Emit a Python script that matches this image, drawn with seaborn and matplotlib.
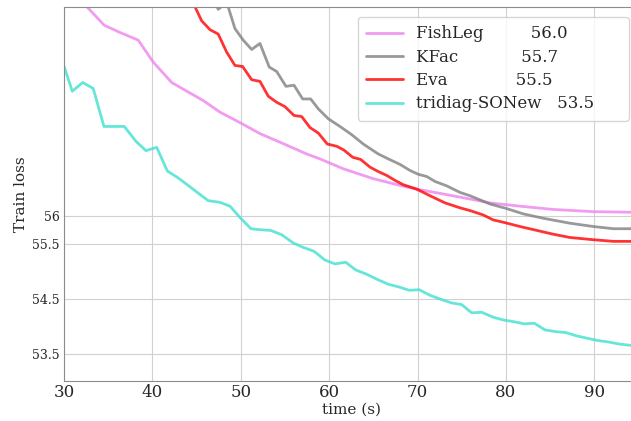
import matplotlib
matplotlib.use("Agg")
import matplotlib.pyplot as plt
import seaborn as sns
import pandas as pd

# --- Data ---
METHODS = ["FishLeg", "KFac", "Eva", "tridiag-SONew"]
FINAL_LOSS = [56.0, 55.7, 55.5, 53.5]
COLORS = ["violet", "grey", "red", "turquoise"]

fishleg_t = [30.00, 34.56, 36.33, 38.40, 40.10, 42.18, 43.91, 45.76, 47.65, 49.91,
             52.17, 54.77, 57.45, 58.96, 61.60, 64.99, 68.20, 70.27, 73.29, 75.93,
             78.19, 81.58, 85.35, 89.88, 94.03, 95.00]
fishleg_loss = [60.25, 59.47, 59.34, 59.20, 58.80, 58.43, 58.27, 58.10, 57.89, 57.70,
                57.50, 57.32, 57.13, 57.04, 56.86, 56.68, 56.55, 56.48, 56.39, 56.31,
                56.24, 56.18, 56.12, 56.08, 56.07, 56.07]

kfac_t = [46.52, 47.45, 48.41, 49.34, 50.28, 51.23, 52.17, 53.22, 54.06, 55.11,
          56.02, 57.00, 57.91, 58.77, 59.90, 61.22, 62.55, 63.86, 65.55, 66.69,
          68.01, 69.14, 70.08, 71.03, 71.97, 73.29, 74.80, 75.93, 78.19, 80.00,
          81.96, 84.22, 87.24, 89.88, 92.14, 94.03, 95.00]
kfac_loss = [60.11, 59.76, 59.89, 59.41, 59.20, 59.03, 59.14, 58.71, 58.63, 58.36,
             58.38, 58.13, 58.13, 57.95, 57.77, 57.63, 57.48, 57.31, 57.13, 57.04,
             56.94, 56.83, 56.76, 56.72, 56.63, 56.55, 56.43, 56.37, 56.22, 56.14,
             56.04, 55.96, 55.87, 55.81, 55.77, 55.77, 55.76]

eva_t = [43.69, 44.63, 45.58, 46.52, 47.45, 48.41, 49.34, 50.21, 51.23, 52.17,
         53.11, 54.06, 55.00, 56.02, 56.89, 57.83, 58.77, 59.79, 60.85, 61.67,
         62.66, 63.56, 64.62, 65.55, 66.50, 67.44, 68.38, 69.90, 71.40, 73.10,
         74.80, 75.93, 77.43, 78.56, 79.89, 81.58, 83.47, 85.35, 87.24, 89.88,
         92.14, 94.03, 95.00]
eva_loss = [60.20, 59.87, 59.55, 59.39, 59.31, 58.98, 58.74, 58.72, 58.48, 58.45,
            58.18, 58.07, 57.99, 57.83, 57.81, 57.61, 57.51, 57.31, 57.27, 57.20,
            57.07, 57.03, 56.89, 56.81, 56.74, 56.65, 56.57, 56.49, 56.37, 56.24,
            56.15, 56.10, 56.02, 55.93, 55.88, 55.81, 55.74, 55.67, 55.61, 55.57,
            55.54, 55.54, 55.53]

sonew_t = [30.00, 30.94, 32.12, 33.31, 34.52, 35.66, 36.82, 38.14, 39.27, 40.49,
           41.69, 42.86, 44.03, 45.16, 46.32, 47.65, 48.78, 49.99, 51.15, 52.29,
           53.38, 54.63, 55.94, 57.07, 58.28, 59.52, 60.66, 61.87, 63.00, 64.13,
           65.55, 66.69, 67.90, 69.06, 70.19, 71.40, 72.73, 73.86, 74.99, 76.12,
           77.25, 78.56, 79.69, 80.83, 82.07, 83.20, 84.41, 85.54, 86.79, 88.00,
           89.13, 90.26, 91.57, 92.90, 94.03, 95.00]
sonew_loss = [58.73, 58.27, 58.43, 58.32, 57.63, 57.63, 57.63, 57.36, 57.19, 57.25,
              56.82, 56.70, 56.56, 56.42, 56.28, 56.25, 56.18, 55.96, 55.77, 55.75,
              55.74, 55.66, 55.51, 55.43, 55.36, 55.20, 55.13, 55.16, 55.02, 54.95,
              54.84, 54.76, 54.71, 54.65, 54.66, 54.56, 54.48, 54.42, 54.39, 54.24,
              54.25, 54.16, 54.11, 54.08, 54.04, 54.05, 53.93, 53.90, 53.88, 53.82,
              53.78, 53.74, 53.71, 53.67, 53.65, 53.64]

X_TICKS = [30, 40, 50, 60, 70, 80, 90]
Y_TICKS = [53.5, 54.5, 55.5, 56]
Y_TICK_LABELS = ["53.5", "54.5", "55.5", "56"]

# --- Style ---
sns.set_style("whitegrid", {"axes.edgecolor": "0.55", "grid.color": "0.82"})
plt.rcParams["font.family"] = ["DejaVu Serif"]

fig = plt.figure(figsize=(6.31, 4.21), dpi=100)
# the right edge of the axes runs a little past the figure, as in the reference
ax = fig.add_axes([0.1014, 0.095, 0.9106, 0.888])

series = [(fishleg_t, fishleg_loss), (kfac_t, kfac_loss),
          (eva_t, eva_loss), (sonew_t, sonew_loss)]
for (t, loss), name, final, color in zip(series, METHODS, FINAL_LOSS, COLORS):
    df = pd.DataFrame({"time": t, "loss": loss})
    sns.lineplot(data=df, x="time", y="loss", ax=ax, color=color, alpha=0.8,
                 linewidth=2, label=f"{name:<16}{final:.1f}     ")

ax.set_xlim(30, 95)
ax.set_ylim(53.0, 59.8)
ax.set_xticks(X_TICKS)
ax.set_yticks(Y_TICKS)
ax.set_yticklabels(Y_TICK_LABELS)
ax.tick_params(axis="x", labelsize=12, pad=2, length=0)
ax.tick_params(axis="y", labelsize=9, pad=3, length=0)
ax.set_xlabel("time (s)", fontsize=11, labelpad=1)
ax.set_ylabel("Train loss", fontsize=11, labelpad=3)

leg = ax.legend(loc="upper right", fontsize=12, borderaxespad=0.6,
                handlelength=2.2, labelspacing=0.38, borderpad=0.5)

fig.savefig("out.png", dpi=100)
